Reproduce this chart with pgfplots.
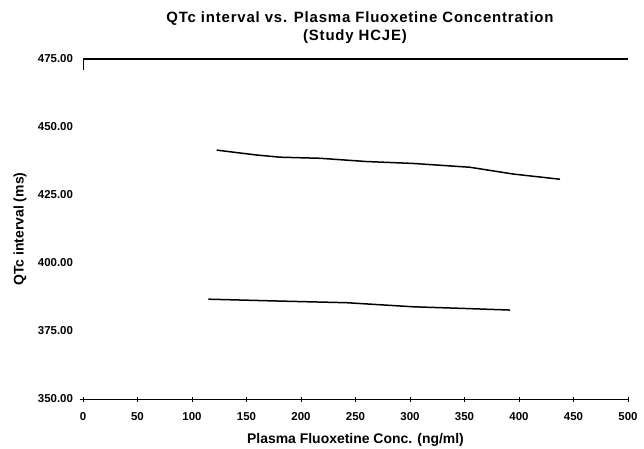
\documentclass[border=0pt]{standalone}
\usepackage{pgfplots}
\pgfplotsset{compat=1.18}
\usepackage{fontspec}
\setmainfont{Liberation Sans}
\newfontfamily\titlefont{Liberation Sans}[LetterSpace=5.5]

\begin{document}
\begin{tikzpicture}
\path[use as bounding box] (-83bp,-50bp) rectangle (561bp,399bp);
\begin{axis}[
  at={(0,0)}, anchor=south west,
  scale only axis,
  width=545bp, height=340bp,
  xmin=0, xmax=500, ymin=350, ymax=475,
  clip=false,
  axis line style={draw=none},
  tick pos=left,
  tick align=center,
  xtick={0,50,...,500},
  ytick={350,375,...,475},
  xtick style={black, line width=0.6pt},
  ytick style={draw=none},
  major tick length=5bp,
  /pgf/number format/assume math mode=true,
  ticklabel style={font=\bfseries\fontsize{11.5}{13}\selectfont},
  yticklabel style={/pgf/number format/fixed, /pgf/number format/fixed zerofill,
    /pgf/number format/precision=2, /pgf/number format/1000 sep={}, xshift=-4bp},
  xticklabel style={yshift=-7bp},
  xlabel={Plasma Fluoxetine Conc. (ng/ml)},
  ylabel={QTc interval (ms)},
  label style={font=\bfseries\fontsize{14}{16}\selectfont},
  xlabel style={at={(axis description cs:0.5,-0.1206)}, anchor=center},
  ylabel style={at={(axis description cs:-0.1156,0.5)}, anchor=center},
]
% frame lines at top and bottom
\draw[black, line width=0.9pt] (axis cs:0,350) -- (axis cs:500,350);
\draw[black, line width=1.1pt] (axis cs:0,475) -- (axis cs:500,475);
\draw[black, line width=0.8pt] (axis cs:0,475) -- (axis cs:0,471);
\draw[black, line width=0.6pt] (axis cs:-3,350) -- (axis cs:0,350);

% QTc trend lines for the two groups
\addplot[black, line width=1.5pt, mark=none] coordinates {
  (122.6,441.5) (159.3,439.7) (180.7,438.9) (217.4,438.5) (260.2,437.3)
  (303.0,436.6) (355.0,435.2) (394.8,432.7) (437.6,430.8)
};
\addplot[black, line width=1.5pt, mark=none] coordinates {
  (115.0,386.7) (180.7,386.0) (241.9,385.4) (303.0,383.9) (348.9,383.3)
  (391.7,382.7)
};
\end{axis}
\node[font=\titlefont\bfseries\fontsize{15}{16}\selectfont, anchor=base] at (277bp,376bp)
  {QTc interval vs. Plasma Fluoxetine Concentration};
\node[font=\titlefont\bfseries\fontsize{15}{16}\selectfont, anchor=base] at (272bp,358bp)
  {(Study HCJE)};
\end{tikzpicture}
\end{document}
